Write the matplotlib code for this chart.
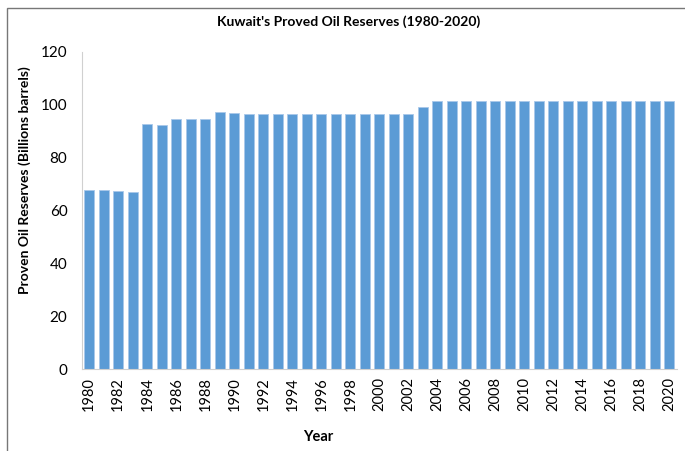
import matplotlib.pyplot as plt
from matplotlib.patches import Rectangle
import numpy as np

years = list(range(1980, 2021))
reserves = [67.9, 67.7, 67.2, 67.0, 92.7, 92.5, 94.5, 94.5, 94.5, 97.1,
            97.0, 96.5, 96.5, 96.5, 96.5, 96.5, 96.5, 96.5, 96.5, 96.5,
            96.5, 96.5, 96.5, 99.0, 101.5, 101.5, 101.5, 101.5, 101.5, 101.5,
            101.5, 101.5, 101.5, 101.5, 101.5, 101.5, 101.5, 101.5, 101.5, 101.5,
            101.5]

plt.rcParams['font.family'] = ['Lato', 'DejaVu Sans']

fig = plt.figure(figsize=(6.85, 4.51), dpi=100)
ax = fig.add_axes([0.1197, 0.1818, 0.868, 0.703])

x = np.arange(len(years))
ax.bar(x, reserves, width=0.68, color='#5b9bd5', edgecolor='#a9c8ea', linewidth=0.6)

ax.set_xlim(-0.5, len(years) - 0.5)
ax.set_ylim(0, 120)
ax.set_yticks(range(0, 121, 20))
ax.set_xticks(x[::2])
ax.set_xticklabels([str(y) for y in years[::2]], rotation=90, fontsize=10.5)
ax.tick_params(axis='y', labelsize=11, length=0, pad=10.5)
ax.tick_params(axis='x', length=0, pad=6)

for s in ['top', 'right']:
    ax.spines[s].set_visible(False)
ax.spines['left'].set_color('#d0d0d0')
ax.spines['bottom'].set_color('#d0d0d0')

fig.text(349 / 685, 1 - 22 / 451, "Kuwait's Proved Oil Reserves (1980-2020)",
         fontsize=10, fontweight='bold', ha='center', va='center')
fig.text(25 / 685, 1 - 180 / 451, 'Proven Oil Reserves (Billions barrels)', rotation=90,
         fontsize=10, fontweight='bold', ha='center', va='center')
fig.text(318 / 685, 1 - 437 / 451, 'Year', fontsize=10.5, fontweight='bold', ha='center', va='center')

fig.patches.append(Rectangle((7 / 685, -0.1), 1.1, 1.1 - 8 / 451, transform=fig.transFigure,
                             fill=False, edgecolor='#777777', linewidth=1.0))

fig.savefig('out.png', dpi=100)
